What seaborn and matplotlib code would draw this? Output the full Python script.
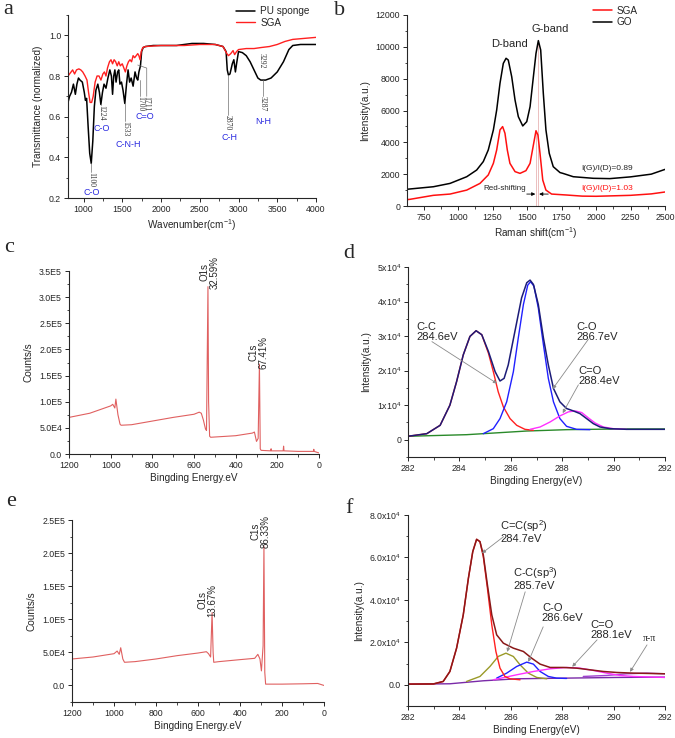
import matplotlib
matplotlib.use('Agg')
import matplotlib.pyplot as plt
from matplotlib.ticker import MultipleLocator, FixedLocator
import seaborn as sns

# ---- a: FTIR ----
pu_x = [800, 820, 845, 870, 895, 915, 935, 955, 985, 1010, 1025, 1040, 1060, 1080, 1100, 1120, 1140,
        1160, 1185, 1205, 1224, 1245, 1265, 1290, 1315, 1340, 1360, 1375, 1390, 1405, 1420, 1440, 1455,
        1470, 1490, 1510, 1533, 1555, 1575, 1595, 1615, 1640, 1665, 1685, 1700, 1715, 1735, 1750, 1770,
        1800, 1900, 2000, 2200, 2400, 2550, 2700, 2800, 2840, 2855, 2870, 2890, 2920, 2940, 2960, 2975,
        3000, 3050, 3100, 3150, 3200, 3250, 3287, 3350, 3420, 3500, 3580, 3650, 3700, 3800, 4000]
pu_t = [0.67, 0.70, 0.72, 0.76, 0.71, 0.76, 0.79, 0.78, 0.77, 0.72, 0.68, 0.69, 0.55, 0.42, 0.37, 0.48, 0.65,
        0.73, 0.76, 0.72, 0.66, 0.72, 0.76, 0.74, 0.79, 0.83, 0.80, 0.71, 0.80, 0.83, 0.77, 0.82, 0.83,
        0.76, 0.77, 0.73, 0.665, 0.76, 0.83, 0.77, 0.79, 0.75, 0.82, 0.79, 0.78, 0.82, 0.85, 0.92, 0.94,
        0.945, 0.95, 0.95, 0.95, 0.96, 0.96, 0.955, 0.945, 0.92, 0.83, 0.805, 0.81, 0.86, 0.88, 0.82, 0.86,
        0.92, 0.915, 0.90, 0.87, 0.83, 0.79, 0.78, 0.78, 0.79, 0.82, 0.87, 0.93, 0.95, 0.955, 0.955]
sga_x = [800, 830, 860, 885, 910, 940, 965, 990, 1020, 1045, 1065, 1085, 1105, 1125, 1150, 1175, 1200,
         1225, 1250, 1270, 1290, 1310, 1335, 1355, 1375, 1395, 1415, 1435, 1455, 1475, 1500, 1520, 1540,
         1560, 1580, 1600, 1620, 1640, 1660, 1680, 1700, 1715, 1730, 1745, 1765, 1800, 2000, 2300, 2500,
         2700, 2800, 2850, 2870, 2900, 2930, 2950, 2975, 3000, 3100, 3200, 3292, 3400, 3500, 3600, 3700,
         3850, 4000]
sga_t = [0.80, 0.815, 0.83, 0.81, 0.83, 0.835, 0.83, 0.82, 0.80, 0.78, 0.72, 0.67, 0.67, 0.70, 0.77, 0.80, 0.80,
         0.78, 0.81, 0.82, 0.80, 0.84, 0.87, 0.88, 0.86, 0.88, 0.87, 0.85, 0.87, 0.85, 0.86, 0.84, 0.82,
         0.85, 0.87, 0.88, 0.87, 0.90, 0.89, 0.90, 0.91, 0.90, 0.88, 0.92, 0.94, 0.945, 0.95, 0.95, 0.955,
         0.955, 0.945, 0.91, 0.90, 0.91, 0.925, 0.905, 0.92, 0.93, 0.935, 0.935, 0.94, 0.945, 0.955, 0.97, 0.98,
         0.985, 0.99]
# band marks: (wavenumber label, x, top of leader, text top, group, group x, group y)
ftir_marks = [('1100', 1100, 0.37, 0.33, 'C-O', 1100, 0.225),
              ('1224', 1224, 0.66, 0.655, 'C-O', 1239, 0.54),
              ('1533', 1533, 0.665, 0.58, 'C-N-H', 1575, 0.465),
              ('1700', 1730, 0.78, 0.70, 'C=O', 1790, 0.60),
              ('2870', 2862, 0.805, 0.61, 'C-H', 2880, 0.50),
              ('3287', 3315, 0.78, 0.70, 'N-H', 3318, 0.575)]

# ---- b: Raman ----
go_x = [630, 652, 821, 942, 1063, 1135, 1183, 1219, 1256, 1280, 1304, 1328, 1348, 1364, 1389, 1413, 1437,
        1469, 1498, 1522, 1546, 1565, 1582, 1599, 1618, 1637, 1661, 1690, 1739, 1760, 1835, 1980, 2100,
        2250, 2400, 2500]
go_i = [1050, 1070, 1210, 1420, 1840, 2260, 2790, 3520, 4780, 6030, 7710, 8960, 9280, 9170, 8120, 6660, 5610,
        5030, 5300, 6240, 8120, 9590, 10390, 9800, 7080, 4780, 3310, 2470, 2100, 2050, 1840, 1740, 1720,
        1830, 2000, 2300]
sgar_x = [630, 652, 821, 942, 1063, 1159, 1219, 1256, 1280, 1304, 1323, 1340, 1357, 1376, 1413, 1449, 1492,
          1522, 1546, 1565, 1579, 1594, 1614, 1637, 1678, 1787, 1900, 2000, 2250, 2400, 2500]
sgar_i = [400, 420, 670, 750, 1000, 1420, 1950, 2680, 3520, 4780, 4990, 4570, 3520, 2680, 2160, 2050, 2220,
          2680, 3830, 4730, 4460, 3310, 1630, 1000, 750, 690, 620, 610, 670, 760, 880]

# ---- c / e: survey spectra ----
svc_e = [1200, 1100, 1000, 990, 980, 975, 965, 955, 950, 900, 800, 700, 600, 575, 565, 555, 545, 540, 533,
         530, 525, 520, 400, 320, 310, 300, 292, 286, 282, 278, 232, 230, 228, 172, 170, 168, 100, 27, 25, 23, 0]
svc_c = [70000, 78000, 92000, 95000, 88000, 105000, 75000, 57000, 55000, 56000, 63000, 70000, 76000, 80000,
         78000, 65000, 48000, 45000, 320000, 100000, 34000, 32000, 35000, 40000, 42000, 24000, 30000, 172000,
         10000, 7000, 6000, 10000, 6000, 6000, 15000, 6000, 5000, 5000, 9000, 5000, 2000]
sve_e = [1200, 1100, 1000, 985, 975, 968, 958, 950, 900, 800, 700, 600, 560, 550, 540, 533, 528, 525, 500,
         400, 330, 315, 305, 298, 290, 286, 282, 278, 200, 100, 30, 10, 0]
sve_c = [40000, 43000, 48000, 52000, 47000, 57000, 40000, 35000, 36000, 40000, 45000, 49000, 51000, 48000,
         43000, 110000, 50000, 35000, 36000, 39000, 41000, 47000, 40000, 22000, 60000, 210000, 20000, 2000,
         2000, 2500, 3000, 1000, 0]

# ---- d: C1s fit of GO ----
d_env_e = [282.0, 282.73, 283.25, 283.63, 283.89, 284.15, 284.41, 284.65, 284.87, 285.13, 285.39, 285.58,
           285.74, 285.90, 286.16, 286.42, 286.62, 286.75, 286.88, 287.07, 287.27, 287.46, 287.66, 287.91,
           288.17, 288.43, 288.69, 288.95, 289.21, 289.47, 289.86, 290.51, 292.0]
d_env_i = [1000, 1750, 4170, 10000, 16800, 24560, 29900, 31550, 30400, 25530, 19700, 17000, 17770, 21650,
           31360, 41070, 45440, 46210, 44950, 39130, 29420, 21650, 14850, 10970, 9030, 8350, 7570, 6120, 4660,
           3690, 3200, 3010, 3010]
d_cc_e = [282.0, 282.73, 283.25, 283.63, 283.89, 284.15, 284.41, 284.65, 284.87, 285.13, 285.32, 285.51,
          285.71, 285.97, 286.23, 286.55, 286.88]
d_cc_i = [1000, 1750, 4170, 10000, 16800, 24560, 29900, 31550, 30400, 25050, 19700, 13880, 9510, 6120, 4170,
          3010, 2720]
d_co_e = [284.93, 285.32, 285.58, 285.84, 286.10, 286.29, 286.49, 286.66, 286.77, 286.90, 287.07, 287.27,
          287.46, 287.66, 287.91, 288.17, 288.56, 289.08]
d_co_i = [1750, 3200, 6120, 10970, 19700, 29420, 39130, 44760, 45730, 44470, 38160, 27480, 17770, 10970, 6120,
          3880, 3010, 2910]
d_cdo_e = [286.75, 287.14, 287.53, 287.91, 288.24, 288.50, 288.76, 289.02, 289.28, 289.60, 289.99, 290.51]
d_cdo_i = [3010, 3690, 5150, 6890, 8060, 8350, 7860, 6310, 4850, 3690, 3200, 3010]
d_bg_e = [282.0, 284.28, 286.62, 288.17, 290.12, 292.0]
d_bg_i = [1000, 1460, 2520, 2910, 3110, 3110]

# ---- f: C1s fit of SGA ----
f_env_e = [282.0, 282.99, 283.37, 283.63, 283.89, 284.15, 284.35, 284.52, 284.67, 284.80, 284.93, 285.09,
           285.26, 285.45, 285.71, 286.10, 286.49, 286.81, 287.14, 287.53, 288.04, 288.56, 289.08, 289.60,
           290.12, 290.77, 292.0]
f_env_i = [300, 400, 1570, 6270, 17250, 32940, 50200, 62750, 68550, 67450, 61180, 47060, 32940, 23530, 19610,
           17250, 15690, 12550, 9730, 8160, 8160, 7840, 7060, 6270, 5800, 5490, 5180]
f_sp2_e = [282.0, 282.99, 283.37, 283.63, 283.89, 284.15, 284.35, 284.52, 284.67, 284.80, 284.93, 285.09,
           285.26, 285.42, 285.58, 285.77, 285.97, 286.36]
f_sp2_i = [300, 400, 1570, 6270, 17250, 32940, 50200, 62750, 68550, 67450, 60390, 45490, 28240, 15690, 7840,
           3920, 2820, 2350]
f_sp3_e = [284.28, 284.80, 285.19, 285.51, 285.81, 286.10, 286.36, 286.68, 287.01, 287.40]
f_sp3_i = [1570, 3920, 8630, 13330, 14900, 13330, 9410, 5490, 3450, 2820]
f_co_e = [285.45, 285.84, 286.23, 286.62, 286.88, 287.14, 287.46, 287.78, 288.17]
f_co_i = [3140, 5490, 8630, 10670, 9730, 6270, 3920, 3140, 2980]
f_cdo_e = [285.32, 286.23, 286.88, 287.53, 288.17, 288.69, 289.21, 289.73, 290.25, 290.77, 292.0]
f_cdo_i = [2350, 4710, 6270, 7530, 8160, 7840, 6750, 5490, 4390, 3920, 3450]
f_pi_e = [288.82, 289.73, 290.51, 291.29, 292.0]
f_pi_i = [3920, 4390, 5180, 5490, 5180]
f_bg_e = [282.0, 283.63, 284.93, 286.23, 288.17, 290.12, 292.0]
f_bg_i = [300, 470, 1880, 2820, 3140, 3450, 3610]

survey_ticks = ['0.0', '5.0E4', '1.0E5', '1.5E5', '2.0E5', '2.5E5', '3.0E5', '3.5E5']
d_ticks = ['0', r'1x10$^4$', r'2x10$^4$', r'3x10$^4$', r'4x10$^4$', r'5x10$^4$']
f_ticks = ['0.0', r'2.0x10$^4$', r'4.0x10$^4$', r'6.0x10$^4$', r'8.0x10$^4$']

sns.set_theme(style='ticks', rc={'axes.linewidth': 0.8, 'xtick.major.size': 3, 'ytick.major.size': 3,
                                 'xtick.minor.size': 1.8, 'ytick.minor.size': 1.8,
                                 'xtick.major.width': 0.7, 'ytick.major.width': 0.7,
                                 'xtick.minor.width': 0.6, 'ytick.minor.width': 0.6,
                                 'xtick.major.pad': 2, 'ytick.major.pad': 2})
plt.rcParams['font.family'] = ['Liberation Sans', 'DejaVu Sans']
plt.rcParams['mathtext.fontset'] = 'custom'
plt.rcParams['mathtext.rm'] = 'Liberation Sans'
plt.rcParams['mathtext.it'] = 'Liberation Sans'

W, H = 675, 738
fig = plt.figure(figsize=(W / 100, H / 100), dpi=100)


def make_ax(l, r, t, b):
    return fig.add_axes([l / W, 1 - b / H, (r - l) / W, (b - t) / H])


def style(ax, xlabel, ylabel):
    sns.despine(ax=ax)
    ax.tick_params(labelsize=6.3, which='both', direction='out')
    ax.set_xlabel(xlabel, fontsize=7.2, labelpad=2)
    ax.set_ylabel(ylabel, fontsize=7.2, labelpad=4)


def line(ax, x, y, color, lw=1.0, label=None):
    sns.lineplot(x=x, y=y, ax=ax, color=color, lw=lw, label=label, estimator=None, legend=label is not None)


def arrow(ax, start, end, color='#8a8a8a'):
    ax.annotate('', xy=end, xytext=start,
                arrowprops=dict(arrowstyle='-|>', color=color, lw=0.6, mutation_scale=5, shrinkA=0, shrinkB=0))


serif = ['Liberation Serif', 'DejaVu Serif']
blue = '#2a2ae0'
label_kw = dict(ha='left', va='top', fontsize=8, linespacing=1.0)

# a
ax = make_ax(68, 316, 15, 198)
line(ax, pu_x, pu_t, 'black', 1.1, 'PU sponge')
line(ax, sga_x, sga_t, '#ff2020', 1.0, 'SGA')
ax.set_xlim(800, 4000)
ax.set_ylim(0.2, 1.1)
ax.xaxis.set_major_locator(MultipleLocator(500))
ax.xaxis.set_minor_locator(MultipleLocator(250))
ax.yaxis.set_major_locator(FixedLocator([0.2, 0.4, 0.6, 0.8, 1.0]))
ax.yaxis.set_minor_locator(MultipleLocator(0.1))
style(ax, r'Wavenumber(cm$^{-1}$)', 'Transmittance (normalized)')
ax.legend(loc='upper right', bbox_to_anchor=(0.99, 1.07), frameon=False, fontsize=7.2,
          handlelength=1.9, handletextpad=0.5, labelspacing=0.15, borderaxespad=0)
for num, x, ytop, ytxt, grp, gx, gy in ftir_marks:
    ax.plot([x, x], [ytop, ytxt], color='#707070', lw=0.5)
    ax.text(x, ytxt, num, rotation=-90, ha='center', va='top', fontsize=5.5, family=serif, color='#333333')
    ax.text(gx, gy, grp, ha='center', va='center', fontsize=6.5, color=blue)
ax.plot([1700, 1816, 1816], [0.854, 0.839, 0.70], color='#707070', lw=0.5)
ax.text(1816, 0.70, '1711', rotation=-90, ha='center', va='top', fontsize=5.5, family=serif, color='#333333')
ax.text(3300, 0.915, '3292', rotation=-90, ha='center', va='top', fontsize=5.5, family=serif, color='#333333')

# b
ax = make_ax(407, 665, 15, 206)
ax.plot([1565, 1565], [0, 4730], color='#e8b4b4', lw=0.6)
ax.plot([1582, 1582], [0, 10390], color='#e8b4b4', lw=0.6)
line(ax, sgar_x, sgar_i, '#ff1010', 1.1, 'SGA')
line(ax, go_x, go_i, 'black', 1.1, 'GO')
ax.set_xlim(630, 2500)
ax.set_ylim(0, 12000)
ax.xaxis.set_major_locator(MultipleLocator(250))
ax.xaxis.set_minor_locator(MultipleLocator(125))
ax.yaxis.set_major_locator(MultipleLocator(2000))
ax.yaxis.set_minor_locator(MultipleLocator(1000))
style(ax, r'Raman shift(cm$^{-1}$)', 'Intensity(a.u.)')
ax.legend(loc='upper left', bbox_to_anchor=(0.705, 1.07), frameon=False, fontsize=7.2,
          handlelength=1.9, handletextpad=0.5, labelspacing=0.15, borderaxespad=0)
ax.text(1373, 10200, 'D-band', ha='center', va='center', fontsize=8)
ax.text(1668, 11100, 'G-band', ha='center', va='center', fontsize=8)
ax.text(1892, 2350, 'I(G)/I(D)=0.89', ha='left', va='center', fontsize=6)
ax.text(1892, 1090, 'I(G)/I(D)=1.03', ha='left', va='center', fontsize=6, color='#ff1010')
ax.text(1337, 1090, 'Red-shifting', ha='center', va='center', fontsize=5.8)
arrow(ax, (1498, 750), (1560, 750), 'black')
arrow(ax, (1654, 750), (1588, 750), 'black')

# c
ax = make_ax(69, 319, 271, 454)
line(ax, svc_e, svc_c, '#e06060', 0.8)
ax.set_xlim(1200, 0)
ax.set_ylim(0, 350000)
ax.xaxis.set_major_locator(MultipleLocator(200))
ax.xaxis.set_minor_locator(MultipleLocator(100))
ax.yaxis.set_major_locator(FixedLocator([i * 50000 for i in range(8)]))
ax.yaxis.set_minor_locator(MultipleLocator(25000))
ax.set_yticklabels(survey_ticks)
style(ax, 'Bingding Energy.eV', 'Counts/s')
ax.text(527, 316000, 'O1s\n32.59%', rotation=90, ha='center', va='bottom', multialignment='center',
        fontsize=7, linespacing=1.0)
ax.text(289, 163000, 'C1s\n67.41%', rotation=90, ha='center', va='bottom', multialignment='center',
        fontsize=7, linespacing=1.0)

# d
ax = make_ax(408, 665, 267, 457)
line(ax, d_bg_e, d_bg_i, '#2a8a2a', 1.0)
line(ax, d_cc_e, d_cc_i, '#ff2020', 1.0)
line(ax, d_co_e, d_co_i, '#2020ff', 1.0)
line(ax, d_cdo_e, d_cdo_i, '#ff30ff', 1.0)
line(ax, d_env_e, d_env_i, '#1c1c78', 1.1)
ax.set_xlim(282, 292)
ax.set_ylim(-5000, 50000)
ax.xaxis.set_major_locator(MultipleLocator(2))
ax.xaxis.set_minor_locator(MultipleLocator(1))
ax.yaxis.set_major_locator(FixedLocator([i * 10000 for i in range(6)]))
ax.yaxis.set_minor_locator(MultipleLocator(5000))
ax.set_yticklabels(d_ticks)
style(ax, 'Bingding Energy(eV)', 'Intensity(a.u.)')
ax.text(282.32, 34000, 'C-C\n284.6eV', **label_kw)
ax.text(288.57, 34000, 'C-O\n286.7eV', **label_kw)
ax.text(288.63, 21200, 'C=O\n288.4eV', **label_kw)
arrow(ax, (282.93, 28400), (285.46, 16300))
arrow(ax, (289.02, 29100), (287.63, 14700))
arrow(ax, (288.63, 15900), (288.02, 7700))

# e
ax = make_ax(72, 324, 520, 702)
line(ax, sve_e, sve_c, '#e06060', 0.8)
ax.set_xlim(1200, 0)
ax.set_ylim(-25000, 250000)
ax.xaxis.set_major_locator(MultipleLocator(200))
ax.xaxis.set_minor_locator(MultipleLocator(100))
ax.yaxis.set_major_locator(FixedLocator([i * 50000 for i in range(6)]))
ax.yaxis.set_minor_locator(MultipleLocator(25000))
ax.set_yticklabels(survey_ticks[:6])
style(ax, 'Bingding Energy.eV', 'Counts/s')
ax.text(555, 104000, 'O1s\n13.67%', rotation=90, ha='center', va='bottom', multialignment='center',
        fontsize=7, linespacing=1.0)
ax.text(304, 208000, 'C1s\n86.33%', rotation=90, ha='center', va='bottom', multialignment='center',
        fontsize=7, linespacing=1.0)

# f
ax = make_ax(408, 665, 515, 706)
line(ax, f_bg_e, f_bg_i, '#7a2aa8', 1.0)
line(ax, f_pi_e, f_pi_i, '#a040d0', 1.0)
line(ax, f_sp3_e, f_sp3_i, '#9a9a28', 1.0)
line(ax, f_co_e, f_co_i, '#2020ff', 1.0)
line(ax, f_cdo_e, f_cdo_i, '#ff30ff', 1.0)
line(ax, f_sp2_e, f_sp2_i, '#ff2020', 1.0)
line(ax, f_env_e, f_env_i, '#8a1818', 1.1)
ax.set_xlim(282, 292)
ax.set_ylim(-10000, 80000)
ax.xaxis.set_major_locator(MultipleLocator(2))
ax.xaxis.set_minor_locator(MultipleLocator(1))
ax.yaxis.set_major_locator(FixedLocator([i * 20000 for i in range(5)]))
ax.yaxis.set_minor_locator(MultipleLocator(10000))
ax.set_yticklabels(f_ticks)
style(ax, 'Binding Energy(eV)', 'Intensity(a.u.)')
ax.text(285.59, 78400, 'C=C(sp$^2$)\n284.7eV', **label_kw)
ax.text(286.1, 56500, 'C-C(sp$^3$)\n285.7eV', **label_kw)
ax.text(287.21, 38400, 'C-O\n286.6eV', **label_kw)
ax.text(289.09, 30600, 'C=O\n288.1eV', **label_kw)
ax.text(291.4, 22000, 'π-π', ha='center', va='center', fontsize=7, family=serif)
arrow(ax, (285.72, 69800), (284.88, 62000))
arrow(ax, (286.56, 43800), (285.86, 15500))
arrow(ax, (287.26, 27300), (286.68, 10800))
arrow(ax, (289.36, 21200), (288.39, 8500))
arrow(ax, (291.3, 18800), (290.64, 6100))

# panel letters
for letter, x, y in [('a', 3, 14), ('b', 334, 15), ('c', 4, 252), ('d', 343, 258), ('e', 6, 506), ('f', 345, 513)]:
    fig.text(x / W, 1 - y / H, letter, fontsize=16, family=serif, va='baseline', ha='left')

fig.savefig('out.png', dpi=100)
